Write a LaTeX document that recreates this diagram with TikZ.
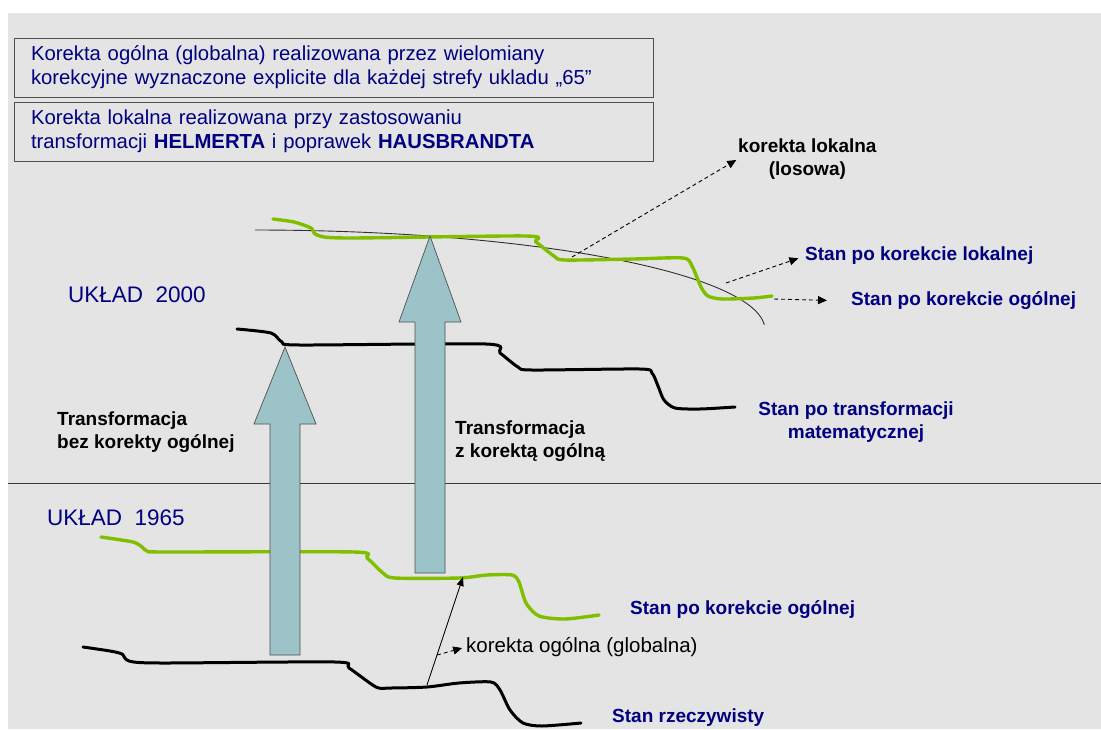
\documentclass[tikz,border=0pt]{standalone}
\usepackage{fontspec}
\setmainfont{Liberation Sans}
\usetikzlibrary{arrows.meta}

\definecolor{tlo}{HTML}{E4E4E4}
\definecolor{granat}{HTML}{000080}
\definecolor{ziel}{HTML}{80BE00}
\definecolor{strzal}{HTML}{9CC4C8}
\definecolor{ramka}{HTML}{505050}

\tikzset{
  stan/.style={line width=3pt, line cap=round, line join=round, smooth, tension=0.45},
  przer/.style={line width=0.9pt, dash pattern=on 4pt off 3pt, -{Triangle[length=9pt,width=8pt]}},
  opis/.style={anchor=west, inner sep=0pt, text=granat}
}

\begin{document}
\begin{tikzpicture}[x=1pt, y=-1pt, font=\fontsize{19}{23}\selectfont\bfseries]
  \useasboundingbox (0,0) rectangle (1101,729);
  \fill[tlo] (8,13) rectangle (1101,729);
  % ramki z opisem korekt
  \begin{scope}[every node/.style={draw=ramka, line width=0.8pt, text=granat, minimum width=639pt,
      minimum height=59pt, text width=605pt, inner xsep=17pt, align=left,
      font=\fontsize{20.3}{24}\selectfont}]
    \node (ogolna) at (333.5,67.5) {Korekta ogólna (globalna) realizowana przez wielomiany\\korekcyjne wyznaczone explicite dla każdej strefy ukladu „65”};
    \node (lokalna) at (333.5,131.5) {Korekta lokalna realizowana przy zastosowaniu\\transformacji \textbf{HELMERTA} i poprawek \textbf{HAUSBRANDTA}};
  \end{scope}
  % linia podzialu ukladow
  \draw[ramka!70!black, line width=0.7pt] (8,483) -- (1101,483);
  % stany (linie)
  \draw[stan] plot coordinates {(83,647) (110,651) (122,654) (129,661) (161,663) (335,662)
    (349,668) (376,687) (390,688) (427,687) (459,683) (491,682) (500,690) (510,710)
    (523,723) (542,726) (581,723)};
  \draw[stan, ziel, line width=3.4pt] plot coordinates {(101,537) (133,542) (142,547) (147,551)
    (165,552) (354,552) (367,558) (383,573) (395,578) (459,578) (487,575) (512,575)
    (519,582) (526,603) (539,616) (565,619) (599,615)};
  \draw[stan] plot coordinates {(237,329) (271,333) (282,342) (300,345) (486,344) (500,353)
    (518,367) (532,370) (640,369) (652,373) (658,386) (664,400) (675,408) (700,409) (735,407)};
  \draw[ramka!60!black, line width=0.9pt] plot[domain=90:3, samples=60]
    ({255+510*cos(\x)},{330-100*sin(\x)});
  \draw[stan, ziel, line width=3.4pt] plot coordinates {(273,219) (294,222) (311,228) (317,235)
    (347,238) (526,236) (536,242) (554,256) (565,260) (633,259) (683,258) (692,266)
    (701,287) (708,296) (722,299) (754,298) (772,296)};
  % strzalki transformacji
  \foreach \xs/\yg/\yp/\yd in {285/347/424/655, 430/236/322/573}
    \filldraw[fill=strzal, draw=ramka, line width=0.7pt]
      (\xs,\yg) -- (\xs+31,\yp) -- (\xs+15,\yp) -- (\xs+15,\yd)
      -- (\xs-15,\yd) -- (\xs-15,\yp) -- (\xs-31,\yp) -- cycle;
  % opisy stanow
  \node[opis] (stlok) at (805,256) {Stan po korekcie lokalnej};
  \node[opis] (stogo) at (851,301) {Stan po korekcie ogólnej};
  \node[opis, anchor=center, align=center] (sttr) at (856,422) {Stan po transformacji\\matematycznej};
  \node[opis] (stogo2) at (630,610) {Stan po korekcie ogólnej};
  \node[opis] (strz) at (612,718) {Stan rzeczywisty};
  \begin{scope}[every node/.style={opis, font=\fontsize{22.5}{26}\selectfont}]
    \node (u2000) at (68,295) {UKŁAD\ \ 2000};
    \node (u1965) at (47,518) {UKŁAD\ \ 1965};
  \end{scope}
  \begin{scope}[every node/.style={opis, text=black, align=left}]
    \node[align=center] (lokal) at (738,159) {korekta lokalna\\(losowa)};
    \node (tr1) at (57,432) {Transformacja\\bez korekty ogólnej};
    \node (tr2) at (455,441) {Transformacja\\z korektą ogólną};
    \node[font=\fontsize{20.5}{24}\selectfont] (glob) at (466,647) {korekta ogólna (globalna)};
  \end{scope}
  % strzalki do opisow
  \coordinate (pl) at (572,257);
  \coordinate (pk) at (726,283);
  \coordinate (pg) at (774,299);
  \coordinate (dg) at (437,655);
  \coordinate (d1) at (427,685);
  \coordinate (g1) at (463,577);
  \draw[przer, shorten >=2pt] (pl) -- (lokal.west);
  \draw[przer, shorten >=7pt] (pk) -- (stlok.west);
  \draw[przer, shorten >=24pt] (pg) -- (stogo.west);
  \draw[przer, shorten >=4pt] (dg) -- (glob.west);
  \draw[line width=0.9pt, -{Triangle[length=9pt,width=7pt]}] (d1) -- (g1);
\end{tikzpicture}
\end{document}
